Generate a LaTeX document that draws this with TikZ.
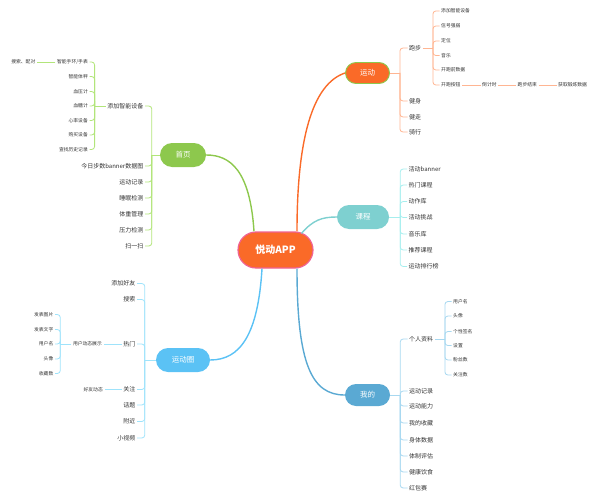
\documentclass[tikz,border=0pt]{standalone}
\usepackage{fontspec}
\setmainfont{Noto Sans CJK SC}
\definecolor{txt}{HTML}{333333}
\definecolor{gA}{HTML}{8DC84D}
\definecolor{gL}{HTML}{B2E57A}
\definecolor{oA}{HTML}{FA6A28}
\definecolor{oL}{HTML}{FFB592}
\definecolor{tA}{HTML}{7ED0D0}
\definecolor{tL}{HTML}{A6EEEE}
\definecolor{bA}{HTML}{5BC2F5}
\definecolor{bL}{HTML}{9FE3FB}
\definecolor{mA}{HTML}{5AA9D3}
\definecolor{mL}{HTML}{A8D8F0}
\definecolor{pk}{HTML}{F06292}
\newcommand\rtree[4]{%
  \draw[#1] (#2.east) -- ++(#3,0) coordinate (#2-j);
  \foreach \ch in {#4} {\draw[#1, rounded corners=3pt] (#2-j) |- (\ch.west);}
}
\newcommand\ltree[4]{%
  \draw[#1] (#2.west) -- ++(-#3,0) coordinate (#2-j);
  \foreach \ch in {#4} {\draw[#1, rounded corners=3pt] (#2-j) |- (\ch.east);}
}
\begin{document}
\begin{tikzpicture}[x=1pt,y=-1pt,
  l1/.style={font=\fontsize{6}{7}\selectfont, text=txt, inner sep=1.5pt},
  l2/.style={font=\fontsize{4.8}{6}\selectfont, text=txt, inner sep=1.5pt},
  hub/.style={rounded corners=11.5pt, minimum height=23pt, text=white,
    font=\fontsize{7.5}{9}\selectfont, inner sep=0pt},
  brg/.style={draw=gL, line width=0.8pt},
  bro/.style={draw=oL, line width=0.8pt},
  brt/.style={draw=tL, line width=0.8pt},
  brb/.style={draw=bL, line width=0.8pt},
  brm/.style={draw=mL, line width=0.8pt},
  main/.style={line width=1.4pt}]
\useasboundingbox (0,0) rectangle (596,500);

% central node
\node[rounded corners=18pt, minimum width=75pt, minimum height=36pt, fill=oA,
  draw=pk, line width=1.2pt, text=white, font=\fontsize{10}{12}\selectfont\bfseries]
  (C) at (275.5,250) {悦动APP};

% hubs
\node[hub, fill=gA, minimum width=46pt, minimum height=24pt, rounded corners=12pt] (H) at (183,155) {首页};
\node[hub, fill=oA, draw=gA, line width=0.9pt, minimum width=44pt, minimum height=21pt, rounded corners=10.5pt] (S) at (367.5,73) {运动};
\node[hub, fill=tA, minimum width=52pt, minimum height=24pt, rounded corners=12pt] (K) at (363,217) {课程};
\node[hub, fill=bA, minimum width=54pt, minimum height=24pt, rounded corners=12pt] (Q) at (183,360) {运动圈};
\node[hub, fill=mA, minimum width=45pt, minimum height=22pt, rounded corners=11pt] (M) at (367.5,395) {我的};

% main connectors
\draw[main, draw=gA] ([xshift=-21.5pt]C.north) .. controls (250,170) and (230,155) .. (H.east);
\draw[main, draw=oA] ([xshift=21.5pt]C.north) .. controls (297,140) and (312,84) .. (S.west);
\draw[main, draw=tA] ([xshift=26pt,yshift=-2pt]C.north) .. controls (313,220) and (322,217) .. (K.west);
\draw[main, draw=bA] ([xshift=-13.5pt]C.south) .. controls (258,335) and (240,360) .. (Q.east);
\draw[main, draw=mA] ([xshift=21.5pt]C.south) .. controls (297,365) and (312,395) .. (M.west);

% ---- 首页
\node[l1, anchor=east] (a1) at (145,106) {添加智能设备};
\node[l1, anchor=east] (a2) at (145,166) {今日步数banner数据图};
\node[l1, anchor=east] (a3) at (145,182) {运动记录};
\node[l1, anchor=east] (a4) at (145,198) {睡眠检测};
\node[l1, anchor=east] (a5) at (145,214) {体重管理};
\node[l1, anchor=east] (a6) at (145,230) {压力检测};
\node[l1, anchor=east] (a7) at (145,246) {扫一扫};
\ltree{brg}{H}{8}{a1,a2,a3,a4,a5,a6,a7}

\node[l2, anchor=east] (b1) at (89.5,62) {智能手环/手表};
\node[l2, anchor=east] (b2) at (89.5,76.5) {智能体秤};
\node[l2, anchor=east] (b3) at (89.5,91.5) {血压计};
\node[l2, anchor=east] (b4) at (89.5,106) {血糖计};
\node[l2, anchor=east] (b5) at (89.5,120.5) {心率设备};
\node[l2, anchor=east] (b6) at (89.5,135) {购买设备};
\node[l2, anchor=east] (b7) at (89.5,149.5) {查找历史记录};
\ltree{brg}{a1}{11}{b1,b2,b3,b4,b5,b6,b7}
\node[l2, anchor=east] (b0) at (37,62) {搜索、配对};
\draw[brg] (b1.west) -- (b0.east);

% ---- 运动
\node[l1, anchor=west] (c1) at (407.5,48) {跑步};
\node[l1, anchor=west] (c2) at (407.5,101) {健身};
\node[l1, anchor=west] (c3) at (407.5,117) {健走};
\node[l1, anchor=west] (c4) at (407.5,132) {骑行};
\rtree{bro}{S}{10}{c1,c2,c3,c4}

\node[l2, anchor=west] (d1) at (439.5,11) {添加智能设备};
\node[l2, anchor=west] (d2) at (439.5,26) {信号强弱};
\node[l2, anchor=west] (d3) at (439.5,41) {定位};
\node[l2, anchor=west] (d4) at (439.5,55.5) {音乐};
\node[l2, anchor=west] (d5) at (439.5,70) {开跑前数据};
\node[l2, anchor=west] (d6) at (439.5,85) {开跑按钮};
\rtree{bro}{c1}{10}{d1,d2,d3,d4,d5,d6}
\node[l2, anchor=west] (d7) at (480.5,85) {倒计时};
\node[l2, anchor=west] (d8) at (516,85) {跑步结束};
\node[l2, anchor=west] (d9) at (556.5,85) {获取锻炼数据};
\draw[bro] (d6.east) -- (d7.west);
\draw[bro] (d7.east) -- (d8.west);
\draw[bro] (d8.east) -- (d9.west);

% ---- 课程
\node[l1, anchor=west] (e1) at (407,169) {活动banner};
\node[l1, anchor=west] (e2) at (407,185) {热门课程};
\node[l1, anchor=west] (e3) at (407,201.5) {动作库};
\node[l1, anchor=west] (e4) at (407,217.5) {活动挑战};
\node[l1, anchor=west] (e5) at (407,234) {音乐库};
\node[l1, anchor=west] (e6) at (407,250) {推荐课程};
\node[l1, anchor=west] (e7) at (407,266.5) {运动排行榜};
\rtree{brt}{K}{11}{e1,e2,e3,e4,e5,e6,e7}

% ---- 运动圈
\node[l1, anchor=east] (f1) at (137,283.5) {添加好友};
\node[l1, anchor=east] (f2) at (137,299.5) {搜索};
\node[l1, anchor=east] (f3) at (137,344) {热门};
\node[l1, anchor=east] (f4) at (137,389.5) {关注};
\node[l1, anchor=east] (f5) at (137,405) {话题};
\node[l1, anchor=east] (f6) at (137,421.5) {附近};
\node[l1, anchor=east] (f7) at (137,438) {小视频};
\ltree{brb}{Q}{11}{f1,f2,f3,f4,f5,f6,f7}

\node[l2, anchor=east] (g0) at (103.5,344) {用户动态展示};
\draw[brb] (f3.west) -- (g0.east);
\node[l2, anchor=east] (g1) at (55,314.5) {发表图片};
\node[l2, anchor=east] (g2) at (55,329.5) {发表文字};
\node[l2, anchor=east] (g3) at (55,344) {用户名};
\node[l2, anchor=east] (g4) at (55,359) {头像};
\node[l2, anchor=east] (g5) at (55,373.5) {收藏数};
\ltree{brb}{g0}{11}{g1,g2,g3,g4,g5}

\node[l2, anchor=east] (g6) at (104.5,389.5) {好友动态};
\draw[brb] (f4.west) -- (g6.east);

% ---- 我的
\node[l1, anchor=west] (h1) at (407.5,339) {个人资料};
\node[l1, anchor=west] (h2) at (407.5,391) {运动记录};
\node[l1, anchor=west] (h3) at (407.5,406) {运动能力};
\node[l1, anchor=west] (h4) at (407.5,423) {我的收藏};
\node[l1, anchor=west] (h5) at (407.5,440) {身体数据};
\node[l1, anchor=west] (h6) at (407.5,456) {体制评估};
\node[l1, anchor=west] (h7) at (407.5,472) {健康饮食};
\node[l1, anchor=west] (h8) at (407.5,488) {红包赛};
\rtree{brm}{M}{10}{h1,h2,h3,h4,h5,h6,h7,h8}

\node[l2, anchor=west] (i1) at (451.5,301.5) {用户名};
\node[l2, anchor=west] (i2) at (451.5,316) {头像};
\node[l2, anchor=west] (i3) at (451.5,331.5) {个性签名};
\node[l2, anchor=west] (i4) at (451.5,345.5) {设置};
\node[l2, anchor=west] (i5) at (451.5,360) {粉丝数};
\node[l2, anchor=west] (i6) at (451.5,375) {关注数};
\rtree{brm}{h1}{10}{i1,i2,i3,i4,i5,i6}
\end{tikzpicture}
\end{document}
